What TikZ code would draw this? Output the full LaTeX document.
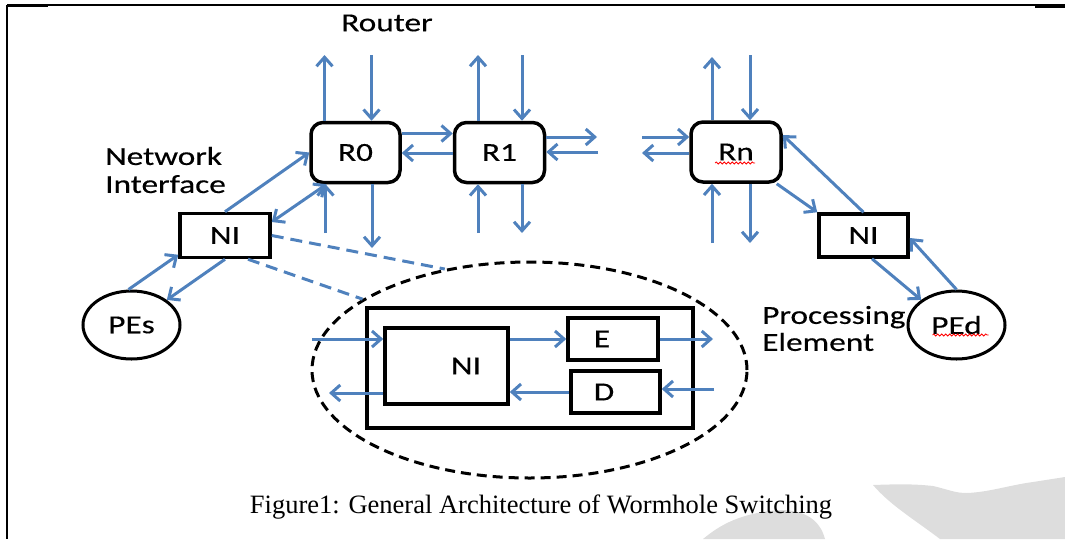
\documentclass[tikz,border=0pt]{standalone}
\usepackage{fontspec}
\setmainfont{Liberation Serif}
\newfontfamily\lab[FakeStretch=1.28,FakeBold=0.4]{Carlito}
\usetikzlibrary{arrows.meta,shapes.geometric,decorations.pathmorphing}
\definecolor{nocblue}{HTML}{4F81BD}
\definecolor{wmgrey}{HTML}{DDDDDD}
\begin{document}
\begin{tikzpicture}[x=1pt,y=-1pt,
  txt/.style={font=\lab\fontsize{26}{30}\selectfont, text=black},
  rbox/.style={draw=black, line width=3.5pt, rounded corners=12pt, minimum width=89pt, minimum height=60pt, inner sep=0pt, txt},
  sbox/.style={draw=black, line width=3.5pt, inner sep=0pt, txt},
  pe/.style={ellipse, draw=black, line width=3pt, minimum width=97pt, minimum height=68pt, inner sep=0pt, txt},
  arr/.style={draw=nocblue, line width=3pt, -{Straight Barb[length=9pt,width=16pt]}},
  dbl/.style={draw=nocblue, line width=3pt, {Straight Barb[length=9pt,width=16pt]}-{Straight Barb[length=9pt,width=16pt]}},
  bdash/.style={draw=nocblue, line width=3pt, dash pattern=on 12pt off 7pt},
  squig/.style={draw=red, line width=0.8pt, decorate, decoration={snake, segment length=4pt, amplitude=1pt}},
  wm/.style={fill=wmgrey}
]
\useasboundingbox (0,0) rectangle (1065,539);
% watermark
\fill[wm] (873,485) .. controls (900,484) and (915,484) .. (933,486) .. controls (950,490) and (955,493) .. (967,493) .. controls (990,492) and (1010,485) .. (1033,482) -- (1065,477) -- (1065,539) -- (940,539) .. controls (915,520) and (890,505) .. (873,485) -- cycle;
\fill[wm] (703,539) .. controls (720,525) and (740,513) .. (780,510) .. controls (805,510) and (820,520) .. (825,539) -- cycle;
% frame
\draw[line width=1.5pt] (7,5) -- (1065,5);
\draw[line width=3pt] (7,5) -- (48,5);
\draw[line width=3pt] (1035,6) -- (1065,6);
\draw[line width=1.5pt] (7,5) -- (7,539);

% texts
\node[txt] (router) at (387,23) {Router};
\node[txt, anchor=west, align=left, inner sep=0pt] (nilab) at (105,170) {Network\\[-2pt]Interface};
\node[txt, anchor=west, align=left, inner sep=0pt] (pelab) at (762,328.5) {Processing\\[-3pt]Element};
\node[font=\fontsize{26.5}{30}\selectfont] (cap) at (541,507) {Figure1: General Architecture of Wormhole Switching};

% routers
\node[rbox] (R0) at (355.5,152.5) {R0};
\node[rbox, minimum width=90pt] (R1) at (499.5,152.5) {R1};
\node[rbox, minimum width=90pt] (Rn) at (736,152) {Rn};
\draw[squig] ([xshift=-21pt,yshift=-11pt]Rn.center) -- ([xshift=19pt,yshift=-11pt]Rn.center);

% free ends
\coordinate (r0t1) at (324.5,55);
\coordinate (r0t2) at (371.5,55);
\coordinate (r0b1) at (325.5,233);
\coordinate (r0b2) at (372,248);
\coordinate (r1t1) at (478,55);
\coordinate (r1t2) at (522,55);
\coordinate (r1b1) at (478,233);
\coordinate (r1b2) at (522,233);
\coordinate (r1e1) at (597,137);
\coordinate (r1e2) at (598,152);
\coordinate (rnt1) at (712,57);
\coordinate (rnt2) at (750,55);
\coordinate (rnb1) at (712,243);
\coordinate (rnb2) at (750,243);
\coordinate (rnw1) at (642,137);
\coordinate (rnw2) at (642,153);

% R0 stubs
\draw[arr] (R0.north -| r0t1) -- (r0t1);
\draw[arr] (r0t2) -- (R0.north -| r0t2);
\draw[arr] (r0b1) -- (R0.south -| r0b1);
\draw[arr] (R0.south -| r0b2) -- (r0b2);
% R0 - R1
\draw[arr] ([yshift=19pt]R0.east) -- ([yshift=19pt]R1.west);
\draw[arr] ([yshift=-0.5pt]R1.west) -- ([yshift=-0.5pt]R0.east);
% R1 stubs
\draw[arr] (R1.north -| r1t1) -- (r1t1);
\draw[arr] (r1t2) -- (R1.north -| r1t2);
\draw[arr] (r1b1) -- (R1.south -| r1b1);
\draw[arr] (R1.south -| r1b2) -- (r1b2);
\draw[arr] (R1.east |- r1e1) -- (r1e1);
\draw[arr] (r1e2) -- (R1.east |- r1e2);
% Rn stubs
\draw[arr] (Rn.north -| rnt1) -- (rnt1);
\draw[arr] (rnt2) -- (Rn.north -| rnt2);
\draw[arr] (rnb1) -- (Rn.south -| rnb1);
\draw[arr] (Rn.south -| rnb2) -- (rnb2);
\draw[arr] (rnw1) -- (Rn.west |- rnw1);
\draw[arr] (Rn.west |- rnw2) -- (rnw2);

% left NI and PEs
\node[sbox, minimum width=90pt, minimum height=44pt] (NIa) at (225,235.5) {NI};
\node[pe] (PEs) at (131.5,325) {PEs};
\draw[arr] (NIa.north) -- (R0.west);
\draw[dbl] ([yshift=13.5pt]NIa.east) -- ([xshift=-29pt]R0.south);
\draw[arr] ([xshift=-3pt]PEs.north) -- ([yshift=4.5pt]NIa.south west);
\draw[arr] (NIa.south) -- (PEs.north east);

% right NI and PEd
\node[sbox, minimum width=89pt, minimum height=43pt] (NIb) at (863.5,235.5) {NI};
\node[pe] (PEd) at (956.5,325) {PEd};
\draw[squig] ([xshift=-24pt,yshift=-10pt]PEd.center) -- ([xshift=32pt,yshift=-10pt]PEd.center);
\draw[arr] ([xshift=-6pt]Rn.south east) -- (NIb.north west);
\draw[arr] (NIb.north) -- ([yshift=17pt]Rn.east);
\draw[arr] ([xshift=8.5pt]NIb.south) -- (PEd.north west);
\draw[arr] (PEd.north) -- ([yshift=-2.5pt]NIb.east);

% zoom ellipse
\node[ellipse, draw=black, line width=3pt, dash pattern=on 10pt off 6pt, minimum width=435pt, minimum height=216pt, inner sep=0pt] (zel) at (529.5,370) {};
\draw[bdash] (NIa.east) -- (zel.130);
\draw[bdash] ([xshift=23pt]NIa.south) -- (zel.157.5);

\node[sbox, minimum width=326pt, minimum height=120pt] (outer) at (530,368) {};
\node[sbox, minimum width=123pt, minimum height=76pt] (NIc) at (446.5,366) {\hspace*{39pt}NI};
\node[sbox, minimum width=90pt, minimum height=42pt] (E) at (613,339) {E\hspace*{22pt}};
\node[sbox, minimum width=89pt, minimum height=42pt] (D) at (615.5,392) {D\hspace*{23pt}};

\coordinate (zin) at (312,339);
\coordinate (zout) at (713,339);
\coordinate (zdin) at (714,389);
\coordinate (zleft) at (329,393);
\draw[arr] (zin) -- (NIc.west |- zin);
\draw[arr] (NIc.east |- E.west) -- (E.west);
\draw[arr] (E.east) -- (zout);
\draw[arr] (zdin) -- (D.east |- zdin);
\draw[arr] (D.west) -- (NIc.east |- D.west);
\draw[arr] (NIc.west |- zleft) -- (zleft);
\end{tikzpicture}
\end{document}
